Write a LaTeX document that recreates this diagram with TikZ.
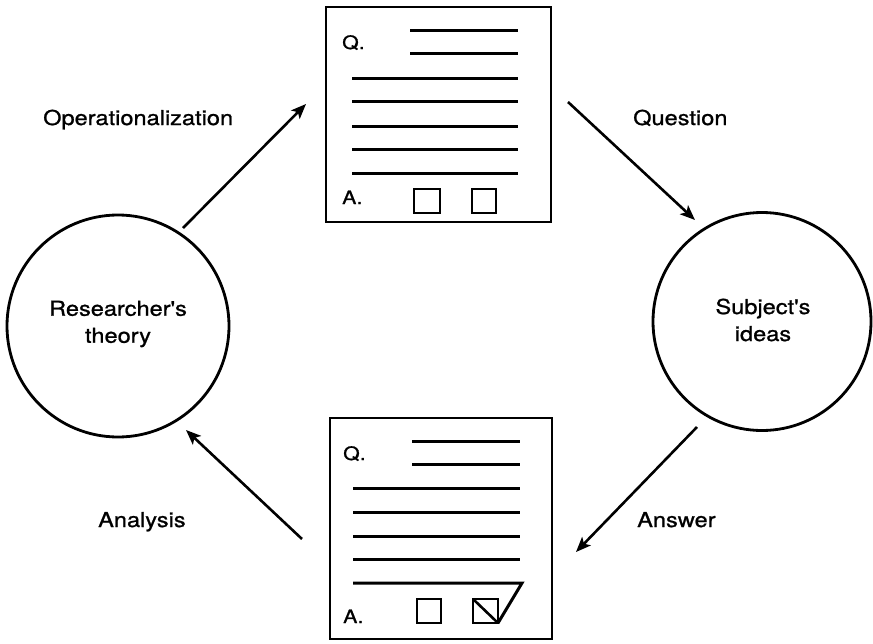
\documentclass[tikz,border=0pt]{standalone}
\usepackage{fontspec}
\setmainfont{TeX Gyre Heros}[FakeStretch=1.15,FakeBold=1,Ligatures=TeXOff]
\usetikzlibrary{arrows.meta}
\begin{document}
\begin{tikzpicture}[x=1pt,y=-1pt,
  idea/.style={circle,draw,line width=2.8pt,inner sep=0pt},
  sheet/.style={rectangle,draw,line width=2.8pt,inner sep=0pt},
  rule/.style={line width=3pt},
  tick/.style={line width=2.6pt},
  flow/.style={line width=2.6pt,-{Stealth[length=15pt,width=12pt,inset=3.5pt]}},
  lbl/.style={font=\fontsize{20.5}{27}\selectfont,inner sep=0pt},
  qalbl/.style={font=\fontsize{18.5}{22}\selectfont,inner sep=0pt,anchor=base west}]
\useasboundingbox (0,0) rectangle (873,643);

% the two circles
\node[idea,minimum size=222pt] (theory) at (118,326) {};
\node[idea,minimum size=218pt] (ideas) at (762,321.5) {};
\node[lbl,align=center] (theorytxt) at (118,324) {Researcher's\\theory};
\node[lbl,align=center] (ideastxt) at (763,320) {Subject's\\ideas};

% blank questionnaire
\node[sheet,minimum width=225pt,minimum height=215pt] (blank) at (438.5,114.5) {};
\node[qalbl] (bq) at (342,49) {Q.};
\node[qalbl] (ba) at (342,204) {A.};
\foreach \y in {30,53} \draw[rule] (410,\y) -- (518,\y);
\foreach \y in {78,101,126,149,173} \draw[rule] (352,\y) -- (518,\y);
\draw[tick] (414,189) rectangle (440,213);
\draw[tick] (472,189) rectangle (496,213);

% answered questionnaire
\node[sheet,minimum width=222pt,minimum height=221pt] (filled) at (441,528.5) {};
\node[qalbl] (fq) at (343,460) {Q.};
\node[qalbl] (fa) at (343,623) {A.};
\foreach \y in {441,464} \draw[rule] (412,\y) -- (520,\y);
\foreach \y in {488,512,536,559} \draw[rule] (353,\y) -- (520,\y);
\draw[rule,line join=miter] (353,583) -- (522,583) -- (498,623);
\draw[tick] (417,599) rectangle (441,623);
\draw[tick] (473,599) rectangle (498,623);
\draw[tick] (473,599) -- (498,623);

% connectors
\coordinate (op1) at (183,228);  \coordinate (op2) at (306,104);
\coordinate (qu1) at (568,102);  \coordinate (qu2) at (695,220);
\coordinate (an1) at (697,427);  \coordinate (an2) at (576,552);
\coordinate (ay1) at (302,539);  \coordinate (ay2) at (186,430);
\draw[flow] (op1) -- (op2);
\draw[flow] (qu1) -- (qu2);
\draw[flow] (an1) -- (an2);
\draw[flow] (ay1) -- (ay2);

\node[lbl,anchor=base west] (oplbl) at (43,125) {Operationalization};
\node[lbl,anchor=base west] (qulbl) at (633,125) {Question};
\node[lbl,anchor=base west] (anlbl) at (637,527) {Answer};
\node[lbl,anchor=base west] (aylbl) at (98,527) {Analysis};
\end{tikzpicture}
\end{document}
